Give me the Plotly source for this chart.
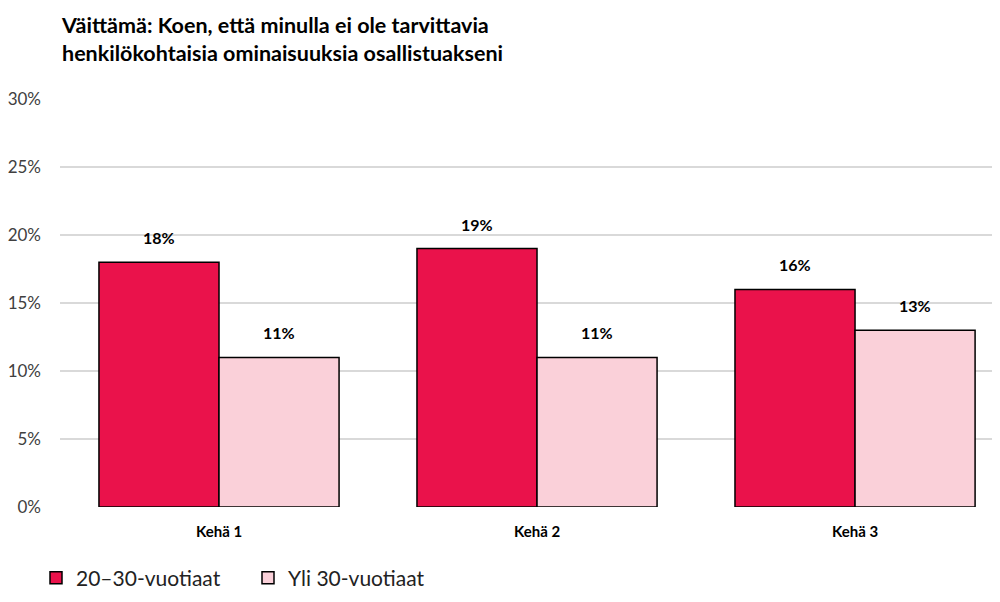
import plotly.graph_objects as go

categories = ["Kehä 1", "Kehä 2", "Kehä 3"]
series_names = ["20–30-vuotiaat", "Yli 30-vuotiaat"]
young = [0.18, 0.19, 0.16]
older = [0.11, 0.11, 0.13]
y_ticks = [0, 0.05, 0.10, 0.15, 0.20, 0.25, 0.30]
y_tick_labels = ["0%", "5%", "10%", "15%", "20%", "25%", "30%"]
title_text = "Väittämä: Koen, että minulla ei ole tarvittavia<br>henkilökohtaisia ominaisuuksia osallistuakseni"

RED = "#EA124B"
PINK = "#FAD0D9"
FONT = "Lato"

fig = go.Figure()
fig.add_trace(go.Bar(x=categories, y=young, name=series_names[0],
                     marker=dict(color=RED, line=dict(color="black", width=1.5))))
fig.add_trace(go.Bar(x=categories, y=older, name=series_names[1],
                     marker=dict(color=PINK, line=dict(color="black", width=1.5))))

annotations = []
for vals, shift in ((young, -60), (older, 60)):
    for c, v in zip(categories, vals):
        annotations.append(dict(x=c, y=v, xref="x", yref="y", text=f"<b>{round(v*100)}%</b>",
                                showarrow=False, xshift=shift, yshift=13, yanchor="bottom",
                                font=dict(family=FONT, size=16, color="black")))

fig.update_layout(
    width=1000, height=602,
    margin=dict(l=52, r=0, t=91, b=103),
    paper_bgcolor="white", plot_bgcolor="white",
    barmode="group", bargap=0.245, bargroupgap=0,
    title=dict(text=f"<b>{title_text}</b>", x=0.054, xref="container", xanchor="left",
               y=0.958, yanchor="top", font=dict(family=FONT, size=21.5, color="black")),
    font=dict(family=FONT, color="black"),
    xaxis=dict(range=[-0.5, 2.481], showgrid=False, zeroline=False, showline=False,
               tickfont=dict(family=FONT, size=15, color="black"), ticks="",
               tickprefix="<b>", ticksuffix="</b>", ticklabelstandoff=14),
    yaxis=dict(range=[0, 0.30], tickvals=y_ticks, ticktext=y_tick_labels,
               showgrid=True, gridcolor="#D9D9D9", gridwidth=1.5, zeroline=False,
               tickfont=dict(family=FONT, size=17, color="#404040"), ticks="", ticklabelstandoff=18),
    legend=dict(orientation="h", xref="container", yref="container", x=0.028, y=0.053,
                xanchor="left", yanchor="middle", font=dict(family=FONT, size=21, color="#222"),
                entrywidth=167, entrywidthmode="pixels", itemwidth=30),
    annotations=annotations,
    showlegend=True,
)

fig.write_html("out.html")
